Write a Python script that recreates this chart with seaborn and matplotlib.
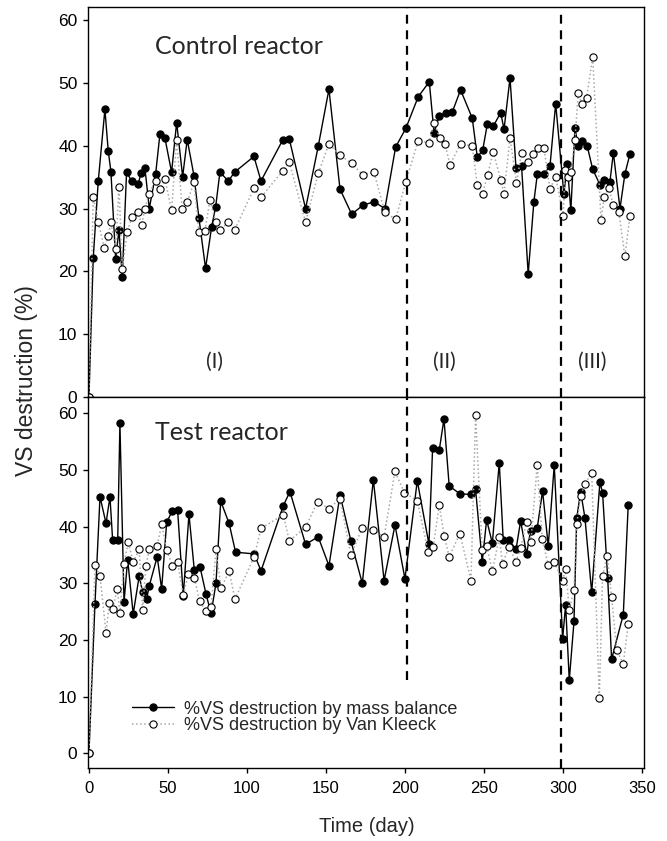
import matplotlib
matplotlib.use("Agg")
import matplotlib.pyplot as plt
import seaborn as sns

# Control reactor - %VS destruction by mass balance
ctrl_mb_day = [0, 2.7, 5.9, 10.1, 12.2, 13.9, 16.9, 19, 21.1, 23.8, 27, 31.2, 32.9, 35.4, 38.2, 42.2,
               44.9, 48.1, 52.3, 55.5, 59.3, 62.2, 66.5, 69.6, 73.8, 77.6, 80.2, 82.9, 88.2, 92.2,
               104.4, 108.9, 122.6, 126.8, 137.1, 145.1, 151.9, 158.9, 166.3, 173.2, 180.4, 187.3,
               194.1, 200.6, 208.4, 215.4, 218.4, 221.7, 225.9, 230, 235.2, 242.6, 245.8, 249.2,
               252.1, 255.9, 260.6, 262.7, 266.5, 270.3, 273.8, 278, 281.6, 283.8, 288, 291.8,
               295.4, 300.6, 302.7, 305, 307.6, 309.7, 312.2, 315.4, 318.8, 323.4, 326, 329.7,
               331.9, 336.1, 339.2, 342.4]
ctrl_mb = [0, 22.1, 34.4, 45.8, 39.2, 35.9, 22.0, 26.6, 19.1, 35.8, 34.4, 33.9, 35.6, 36.5, 30.0, 35.5,
           41.8, 41.2, 35.8, 43.7, 35.1, 41.0, 35.2, 28.5, 20.5, 27.0, 30.3, 35.8, 34.4, 35.8,
           38.3, 34.4, 40.9, 41.1, 30.0, 39.9, 49.0, 33.1, 29.1, 30.5, 31.1, 30.0,
           39.8, 42.8, 47.8, 50.2, 42.1, 44.7, 45.3, 45.4, 48.9, 44.4, 38.2, 39.3,
           43.4, 43.1, 45.3, 42.6, 50.8, 36.4, 36.8, 19.6, 31.1, 35.5, 35.5, 36.8,
           46.7, 32.3, 37.1, 29.7, 42.8, 39.9, 40.7, 39.9, 36.3, 33.8, 34.6, 34.2,
           38.9, 30.0, 35.5, 38.7]

# Control reactor - %VS destruction by Van Kleeck
ctrl_vk_day = [0, 2.7, 5.9, 9.7, 12.2, 13.9, 16.9, 19, 21.1, 24.2, 27, 31.2, 33.3, 35.4, 38, 42.2,
               44.9, 48.1, 52.3, 55.5, 59, 62.2, 66.5, 69.6, 73.4, 76.6, 80.2, 82.9, 88.2, 92.2,
               104.4, 108.9, 122.6, 126.8, 137.1, 145.1, 151.9, 158.9, 166.3, 173.2, 180.4, 187.3,
               194.1, 200.6, 208.4, 215.2, 218.4, 222.2, 225.3, 228.5, 235.2, 242.6, 245.8, 249.2,
               252.3, 255.9, 260.6, 262.7, 266.5, 270.6, 273.8, 278, 281.2, 284.4, 288, 291.8,
               295.4, 300.2, 301.3, 303, 304.9, 307.6, 309.7, 311.8, 315, 318.8, 324.1, 326.2,
               329.1, 331.9, 335.4, 339.2, 342.4]
ctrl_vk = [0, 31.9, 27.8, 23.8, 25.6, 27.8, 23.5, 33.5, 20.4, 26.2, 28.6, 29.4, 27.4, 29.9, 32.4, 34.4,
           33.1, 34.7, 29.7, 41.0, 30.0, 31.0, 34.2, 26.3, 26.4, 31.4, 27.8, 26.6, 27.8, 26.6,
           33.2, 31.8, 36.0, 37.4, 27.8, 35.6, 40.3, 38.5, 37.2, 35.4, 35.8, 29.4,
           28.3, 34.3, 40.8, 40.5, 43.7, 41.2, 40.3, 37.0, 40.3, 40.0, 33.7, 32.4,
           35.4, 39.0, 34.6, 32.4, 41.2, 34.1, 38.9, 37.4, 38.7, 39.6, 39.6, 33.1,
           35.1, 28.8, 36.2, 35.1, 35.9, 41.0, 48.4, 46.6, 47.6, 54.2, 28.2, 31.9,
           33.3, 30.5, 29.4, 22.4, 28.8]

# Test reactor - %VS destruction by mass balance
test_mb_day = [0, 3.8, 7, 10.8, 13.3, 15, 18.2, 19.6, 22.2, 24.5, 28, 31.8, 34, 36.5, 38.2, 43.2,
               46, 49.2, 52.8, 56.1, 59.7, 63.3, 66.7, 70.3, 74.1, 77.3, 80.4, 83.4, 88.7, 92.8,
               104.6, 108.9, 123, 127.2, 137.1, 145.1, 151.9, 158.9, 165.8, 173, 180, 186.8,
               193.7, 200, 207.8, 215.2, 217.5, 221.7, 224.7, 228, 234.8, 241.8, 244.7, 248.9,
               251.7, 255.3, 259.7, 262.2, 266, 270.3, 273.2, 277, 279.5, 283.7, 287.1, 290.7,
               294.5, 299.8, 301.7, 304, 307, 308.7, 311.2, 313.9, 318.2, 323.4, 325.1, 328.3,
               330.8, 338.2, 341.3]
test_mb = [0, 26.3, 45.3, 40.6, 45.3, 37.6, 37.6, 58.3, 26.7, 34.2, 24.6, 31.3, 28.4, 27.2, 29.6, 34.7,
           29.0, 40.8, 42.8, 43.0, 27.8, 42.2, 32.3, 32.9, 28.1, 24.7, 30.0, 44.5, 40.6, 35.5,
           35.2, 32.2, 43.7, 46.2, 36.9, 38.2, 33.1, 45.6, 37.5, 30.0, 48.3, 30.5,
           40.3, 30.8, 48.1, 36.9, 53.9, 53.5, 59.0, 47.2, 45.8, 45.7, 46.6, 33.8,
           41.2, 37.1, 51.3, 37.6, 37.6, 36.0, 41.0, 35.2, 39.3, 39.7, 46.3, 36.6,
           50.9, 20.2, 26.2, 12.9, 23.3, 41.5, 46.2, 41.6, 28.4, 47.9, 45.9, 31.0,
           16.6, 24.5, 43.8]

# Test reactor - %VS destruction by Van Kleeck
test_vk_day = [0, 3.8, 7, 10.8, 12.9, 15, 17.9, 19.6, 22.2, 24.9, 28, 31.8, 34, 36.1, 38.2, 43.2,
               46, 49.2, 52.8, 56.1, 59.7, 62.8, 66.7, 70, 74, 77.3, 80.4, 83.6, 88.7, 92.4,
               104.6, 108.9, 123, 126.8, 137.1, 144.7, 151.9, 158.9, 165.8, 173, 180, 186.8,
               193.7, 199.6, 207.8, 214.7, 217.9, 221.7, 224.9, 228, 234.8, 241.8, 244.7, 248.9,
               251.7, 255.3, 259.7, 261.8, 265.8, 270.3, 273.2, 277, 279.7, 283.7, 286.9, 290.7,
               294.4, 299.8, 301.7, 304, 307, 308.7, 311.2, 313.9, 318.2, 323, 325.1, 328,
               330.8, 334, 338.2, 341.3]
test_vk = [0, 33.2, 31.3, 21.3, 26.6, 25.4, 29.0, 24.7, 33.5, 37.3, 33.7, 36.0, 25.3, 33.1, 36.0, 36.6,
           40.5, 35.9, 33.1, 33.7, 27.9, 31.6, 31.0, 26.8, 25.2, 25.8, 36.0, 29.1, 32.2, 27.2,
           34.7, 39.7, 42.1, 37.5, 39.9, 44.4, 43.2, 44.9, 35.0, 39.8, 39.4, 38.2,
           49.8, 46.0, 44.6, 35.5, 36.5, 43.8, 38.3, 34.7, 38.8, 30.5, 59.8, 35.8,
           36.6, 32.2, 38.1, 33.4, 36.5, 33.8, 36.3, 40.8, 37.3, 50.9, 37.9, 33.2,
           33.8, 30.5, 32.6, 25.3, 28.8, 40.4, 45.5, 47.5, 49.5, 9.7, 31.3, 34.9,
           27.6, 18.2, 15.8, 22.8]

phase_bounds = [201, 298.5]
phase_labels = ["(I)", "(II)", "(III)"]
phase_label_x = [79.7, 224.7, 318.4]
legend_labels = ["%VS destruction by mass balance", "%VS destruction by Van Kleeck"]

sns.set_style("ticks")
plt.rcParams["font.family"] = ["Liberation Sans", "DejaVu Sans"]
plt.rcParams["axes.edgecolor"] = "black"
plt.rcParams["xtick.color"] = "black"
plt.rcParams["ytick.color"] = "black"

fig = plt.figure(figsize=(6.67, 8.41), dpi=100)
L, R = 88 / 667, 644 / 667
ax1 = fig.add_axes([L, 1 - 397 / 841, R - L, 390 / 841])
ax2 = fig.add_axes([L, 1 - 768 / 841, R - L, 371 / 841])


def draw(ax, mb_day, mb, vk_day, vk, labels=None):
    kw1, kw2 = {}, {}
    if labels:
        kw1["label"], kw2["label"] = labels
    sns.lineplot(x=mb_day, y=mb, ax=ax, color="black", linewidth=1, marker="o",
                 markersize=5.2, markerfacecolor="black", markeredgecolor="black",
                 markeredgewidth=0.8, estimator=None, sort=False, **kw1)
    sns.lineplot(x=vk_day, y=vk, ax=ax, color="#a8a8a8", linewidth=1.1, linestyle=":",
                 marker="o", markersize=5.2, markerfacecolor="white", markeredgecolor="black",
                 markeredgewidth=0.8, estimator=None, sort=False, **kw2)


draw(ax1, ctrl_mb_day, ctrl_mb, ctrl_vk_day, ctrl_vk)
draw(ax2, test_mb_day, test_mb, test_vk_day, test_vk, legend_labels)

dash = (0, (4, 3))
ax1.axvline(phase_bounds[0], color="black", linestyle=dash, linewidth=1.6)
ax1.axvline(phase_bounds[1], color="black", linestyle=dash, linewidth=1.6, ymax=0.984)
ax2.axvline(phase_bounds[0], color="black", linestyle=dash, linewidth=1.6, ymin=0.238)
ax2.axvline(phase_bounds[1], color="black", linestyle=dash, linewidth=1.6)

for ax in (ax1, ax2):
    ax.set_xlim(-0.6, 351.3)
    ax.set_yticks(range(0, 61, 10))
    ax.set_xlabel("")
    ax.set_ylabel("")
    ax.tick_params(axis="y", direction="out", length=3.6, width=1, pad=4, labelsize=12.5)
    for s in ax.spines.values():
        s.set_linewidth(1)
        s.set_color("black")

ax1.set_ylim(0, 62.1)
ax2.set_ylim(-2.6, 62.9)
ax1.tick_params(axis="x", length=0, labelbottom=False)
ax2.set_xticks(range(0, 351, 50))
ax2.tick_params(axis="x", direction="out", length=3.6, width=1, pad=6, labelsize=12)

ax1.text(41.8, 55.8, "Control reactor", family=["Lato", "DejaVu Sans"], size=18, va="center")
ax2.text(41.8, 56.7, "Test reactor", family=["Lato", "DejaVu Sans"], size=18, va="center")
for lab, x in zip(phase_labels, phase_label_x):
    ax1.text(x, 5.6, lab, family=["Lato", "DejaVu Sans"], size=15, ha="center", va="center")

fig.text(27 / 667, 1 - 381 / 841, "VS destruction (%)", rotation=90, ha="center", va="center",
         size=16.5)
fig.text(366.5 / 667, 1 - 827 / 841, "Time (day)", ha="center", va="center", size=14.5)

handles, labels = ax2.get_legend_handles_labels()
ax2.legend(handles, labels, loc="center left", bbox_to_anchor=(132 / 667, 1 - 717.5 / 841),
           bbox_transform=fig.transFigure, frameon=False, fontsize=13, handlelength=2.3,
           handletextpad=0.6, labelspacing=0.0, borderpad=0, borderaxespad=0)

fig.savefig("out.png", dpi=100)
